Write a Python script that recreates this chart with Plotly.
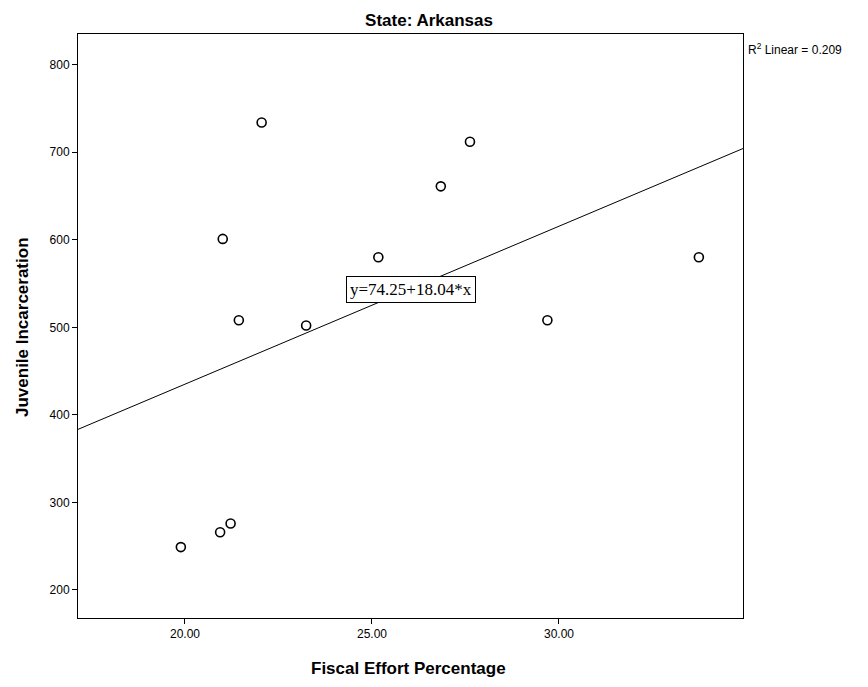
import plotly.graph_objects as go

# Data
fiscal_effort = [22.05, 21.01, 21.44, 23.24, 25.17, 27.62, 26.84, 33.74, 29.69, 19.89, 20.94, 21.22]
juvenile_incarceration = [734, 601, 508, 502, 580, 712, 661, 580, 508, 249, 266, 276]
fit_intercept = 74.25
fit_slope = 18.04
r_squared = 0.209
x_range = [17.14, 34.92]
y_range = [168, 835]
x_ticks = [20, 25, 30]
x_tick_labels = ["20.00", "25.00", "30.00"]
y_ticks = [200, 300, 400, 500, 600, 700, 800]

FONT = "Arial, Liberation Sans, sans-serif"

fit_x = x_range
fit_y = [fit_intercept + fit_slope * v for v in fit_x]

fig = go.Figure()
fig.add_trace(go.Scatter(x=fit_x, y=fit_y, mode="lines",
                         line=dict(color="black", width=1), hoverinfo="skip",
                         showlegend=False, cliponaxis=True))
fig.add_trace(go.Scatter(x=fiscal_effort, y=juvenile_incarceration, mode="markers",
                         marker=dict(symbol="circle-open", size=9, color="black",
                                     line=dict(color="black", width=1.6)),
                         showlegend=False))

# page body has an 8px margin, so the figure is offset by 8px
OFF = 8
W, H = 868 - 2 * OFF, 687 - 2 * OFF
L, R, T, B = 78 - OFF, 743 - OFF, 34 - OFF, 618 - OFF
pw, ph = R - L, B - T

def px(xp):
    return (xp - OFF - L) / pw

def py(yp):
    return (B - (yp - OFF)) / ph

fig.update_layout(
    width=W, height=H,
    margin=dict(l=L, r=W - R, t=T, b=H - B),
    paper_bgcolor="white", plot_bgcolor="white",
    font=dict(family=FONT, color="black", size=12),
    title=dict(text="<b>State: Arkansas</b>", x=(429 - OFF) / W, xanchor="center",
               y=1 - (20 - OFF) / H, yanchor="middle", font=dict(size=17, family=FONT)),
    xaxis=dict(range=x_range, tickvals=x_ticks, ticktext=x_tick_labels,
               showgrid=False, zeroline=False, showline=True, linecolor="black",
               linewidth=1, mirror=True, ticks="outside", ticklen=5, tickcolor="black",
               tickfont=dict(size=12, family=FONT)),
    yaxis=dict(range=y_range, tickvals=y_ticks,
               showgrid=False, zeroline=False, showline=True, linecolor="black",
               linewidth=1, mirror=True, ticks="outside", ticklen=5, tickcolor="black",
               tickfont=dict(size=12, family=FONT)),
    annotations=[
        dict(text="<b>Fiscal Effort Percentage</b>", xref="paper", yref="paper",
             x=px(408), y=py(668), xanchor="center", yanchor="middle", borderpad=0,
             showarrow=False, font=dict(size=17, family=FONT)),
        dict(text="<b>Juvenile Incarceration</b>", xref="paper", yref="paper",
             x=px(22), y=py(327), xanchor="center", yanchor="middle", textangle=-90,
             showarrow=False, font=dict(size=17, family=FONT)),
        dict(text=f"R<sup>2</sup> Linear = {r_squared:.3f}", xref="paper", yref="paper",
             x=px(746), y=py(49), xanchor="left", yanchor="middle",
             showarrow=False, font=dict(size=12, family=FONT)),
        dict(text=f"y={fit_intercept:.2f}+{fit_slope:.2f}*x", xref="paper", yref="paper",
             x=px(411), y=py(289), xanchor="center", yanchor="middle",
             showarrow=False, bgcolor="white", bordercolor="black", borderwidth=1,
             borderpad=3, font=dict(size=17, family="Liberation Serif, Times New Roman, serif")),
    ],
)

fig.write_html("out.html")
